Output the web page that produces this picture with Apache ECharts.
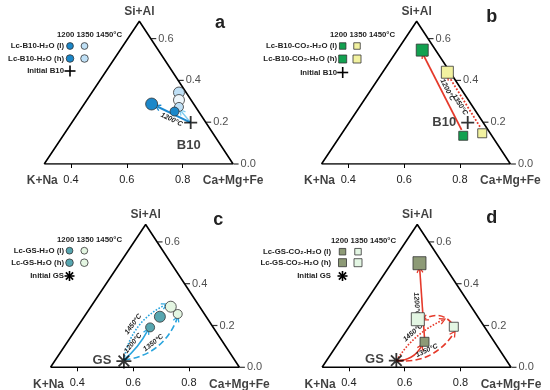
<!DOCTYPE html>
<html><head><meta charset="utf-8">
<script src="https://cdn.jsdelivr.net/npm/echarts@6/dist/echarts.min.js"></script>
<style>html,body{margin:0;padding:0;background:#fff}#c{width:550px;height:390px}</style>
</head><body><div id="c"></div>
<script>
// ---------- data (bottom-scale value, Si+Al value) ----------
const triangleX = [0.304, 0.981, 0.645, 0.304];
const triangleY = [0, 0, 0.683, 0];
const cornerLabels = ['K+Na', 'Ca+Mg+Fe', 'Si+Al'];
const bottomTickValues = [0.4, 0.6, 0.8];
const rightTickValues = [0.0, 0.2, 0.4, 0.6];
const panelLetters = ['a', 'b', 'c', 'd'];
const legendHeader = '1200 1350 1450°C';
const legendRowsA = ['Lc-B10-H₂O (l)', 'Lc-B10-H₂O (h)', 'Initial B10'];
const legendRowsB = ['Lc-B10-CO₂-H₂O (l)', 'Lc-B10-CO₂-H₂O (h)', 'Initial B10'];
const legendRowsC = ['Lc-GS-H₂O (l)', 'Lc-GS-H₂O (h)', 'Initial GS'];
const legendRowsD = ['Lc-GS-CO₂-H₂O (l)', 'Lc-GS-CO₂-H₂O (h)', 'Initial GS'];
const initialNames = ['B10', 'B10', 'GS', 'GS'];
const tempLabels = ['1200°C', '1350°C', '1450°C'];

// panel a
const aLow1200 = [0.771, 0.251];
const aLow1350 = [0.787, 0.273];
const aHigh1200 = [0.689, 0.287];
const aHigh1350 = [0.787, 0.342];
const aHigh1450 = [0.787, 0.306];
const aInitial = [0.829, 0.198];
// panel b
const bLow1200 = [0.812, 0.135];
const bLow1350 = [0.880, 0.147];
const bHigh1200 = [0.665, 0.545];
const bHigh1350 = [0.755, 0.439];
const bInitial = [0.828, 0.198];
// panel c
const cLow1200 = [0.661, 0.191];
const cLow1350 = [0.760, 0.255];
const cHigh1200 = [0.696, 0.242];
const cHigh1350 = [0.735, 0.290];
const cInitial = [0.567, 0.030];
// panel d
const dLow1200 = [0.671, 0.122];
const dLow1350 = [0.776, 0.194];
const dHigh1200 = [0.653, 0.498];
const dHigh1350 = [0.647, 0.230];
const dInitial = [0.570, 0.032];

// arrows [start, end]
const aArrowSolid = [[0.829, 0.198], [0.709, 0.275]];
const aArrowLight = [[0.829, 0.198], [0.795, 0.252]];
const bArrowSolid = [[0.806, 0.163], [0.669, 0.522]];
const bArrowDotted = [[0.872, 0.178], [0.761, 0.418]];
const cArrowSolid = [[0.567, 0.035], [0.652, 0.175]];
const cArrowDotted = [[0.567, 0.035], [0.714, 0.298]];
const cArrowDashed = [[0.567, 0.035], [0.758, 0.234]];
const dArrowSolidCurve = [[0.570, 0.032], [0.660, 0.100]];
const dArrowSolid = [[0.671, 0.140], [0.654, 0.468]];
const dArrowDotted = [[0.570, 0.032], [0.737, 0.226]];
const dArrowDashed = [[0.570, 0.032], [0.776, 0.163]];
const dArrowDashedBack = [[0.770, 0.210], [0.672, 0.232]];

// ---------- styling / layout ----------
const FONT = 'Liberation Sans, Arial, sans-serif';
const COL = {
  aDark: '#1b87c9', aLight: '#bfe0f6', aWhite: '#eef6fb',
  bGreen: '#12a150', bYellow: '#f2f2a0',
  cTeal: '#57a6b0', cPale: '#e4f6e2',
  dOlive: '#8d9a76', dPale: '#e3f6e3',
  blue: '#1c8ad0', blueLight: '#7fcdf0', cBlue: '#2aa5de', red: '#e53a2b'
};
const plusPath = 'path://M8.6,0H11.4V8.6H20V11.4H11.4V20H8.6V11.4H0V8.6H8.6Z';
const starPath = 'path://M0,8.8H20V11.2H0Z M8.8,0H11.2V20H8.8Z M3.75,2.05L17.95,16.25L16.25,17.95L2.05,3.75Z M16.25,2.05L17.95,3.75L3.75,17.95L2.05,16.25Z';
const chevron = 'path://M5,0L10,9L8.4,10L5,3.6L1.6,10L0,9Z';

const gridBoxes = [
  { left: 43.1, top: 17.7 }, { left: 320.4, top: 17.7 },
  { left: 49.4, top: 221 }, { left: 321, top: 221 }
];
const GW = 195.3, GH = 146.3;

function edgeX(v) {
  return triangleX[1] + (triangleX[2] - triangleX[1]) * (v / triangleY[2]);
}

const series = [];
function frame(i) {
  series.push({
    type: 'line', xAxisIndex: i, yAxisIndex: i, silent: true, z: 1,
    data: triangleX.map((x, k) => [x, triangleY[k]]),
    symbol: 'none', lineStyle: { color: '#000', width: 1.6 }
  });
  series.push({
    type: 'scatter', xAxisIndex: i, yAxisIndex: i, silent: true, z: 1,
    data: rightTickValues.map(v => [edgeX(v), v]),
    symbol: 'rect', symbolSize: [5, 1.2], symbolOffset: [3, 0],
    itemStyle: { color: '#000' },
    label: { show: true, position: 'right', distance: 2, formatter: p => p.value[1].toFixed(1),
      fontSize: 11, color: '#222', fontFamily: FONT }
  });
  const offs = [[-2, 17], [0, 17], [0, -10]];
  series.push({
    type: 'scatter', xAxisIndex: i, yAxisIndex: i, silent: true, z: 1,
    symbolSize: 1, itemStyle: { color: 'rgba(0,0,0,0)' },
    data: [0, 1, 2].map(k => ({ value: [triangleX[k], triangleY[k]], name: cornerLabels[k],
      label: { offset: offs[k] } })),
    label: { show: true, position: 'inside', formatter: '{b}', fontSize: 12, fontWeight: 'bold',
      color: '#111', fontFamily: FONT }
  });
}
function pt(i, v, symbol, size, color, z) {
  series.push({
    type: 'scatter', xAxisIndex: i, yAxisIndex: i, data: [v], symbol, symbolSize: size,
    itemStyle: { color, borderColor: '#333', borderWidth: 0.8, opacity: 1 }, z: z || 4
  });
}
function initial(i, v, symbol, size, name, pos, off) {
  series.push({
    type: 'scatter', xAxisIndex: i, yAxisIndex: i, data: [{ value: v, name }], symbol, symbolSize: size,
    itemStyle: { color: '#000' }, z: 5,
    label: { show: true, position: pos, offset: off, formatter: '{b}', fontSize: 13, fontWeight: 'bold',
      color: '#111', fontFamily: FONT }
  });
}
function arrow(i, seg, color, width, type, curveness, text, pos) {
  series.push({
    type: 'lines', coordinateSystem: 'cartesian2d', xAxisIndex: i, yAxisIndex: i, z: 3,
    symbol: ['none', chevron], symbolSize: [7, 7],
    lineStyle: { color, width, type, curveness, opacity: 1 },
    data: [{ coords: seg, name: text || '' }],
    label: { show: !!text, position: pos || 'middle', formatter: '{b}', fontSize: 7, fontWeight: 'bold',
      fontStyle: 'italic', color: '#222', fontFamily: FONT, distance: 2 }
  });
}

// panel a
frame(0);
arrow(0, aArrowLight, COL.blueLight, 1.5, 'solid', 0, '', null);
arrow(0, aArrowSolid, COL.blue, 2, 'solid', 0, tempLabels[0], 'insideMiddleBottom');
pt(0, aHigh1350, 'circle', 11, COL.aLight);
pt(0, aHigh1450, 'circle', 11, COL.aWhite);
pt(0, aLow1350, 'circle', 9, COL.aLight);
pt(0, aHigh1200, 'circle', 12, COL.aDark);
pt(0, aLow1200, 'circle', 9, COL.aDark, 5);
initial(0, aInitial, plusPath, 13, initialNames[0], 'bottom', [-2, 5]);
// panel b
frame(1);
arrow(1, bArrowSolid, COL.red, 1.8, 'solid', 0, tempLabels[0], 'insideMiddleTop');
arrow(1, bArrowDotted, COL.red, 1.8, 'dotted', 0, tempLabels[1], 'insideMiddleBottom');
pt(1, bHigh1200, 'rect', 12, COL.bGreen);
pt(1, bHigh1350, 'rect', 12, COL.bYellow);
pt(1, bLow1200, 'rect', 9, COL.bGreen);
pt(1, bLow1350, 'rect', 9, COL.bYellow);
initial(1, bInitial, plusPath, 13, initialNames[1], 'left', [0, 0]);
// panel c
frame(2);
arrow(2, cArrowSolid, COL.cBlue, 1.6, 'solid', -0.1, tempLabels[0], 'insideMiddleTop');
arrow(2, cArrowDotted, COL.cBlue, 1.6, 'dotted', 0.25, tempLabels[2], 'insideMiddleTop');
arrow(2, cArrowDashed, COL.cBlue, 1.6, 'dashed', -0.3, tempLabels[1], 'insideMiddleTop');
pt(2, cLow1200, 'circle', 9, COL.cTeal);
pt(2, cHigh1200, 'circle', 11, COL.cTeal);
pt(2, cHigh1350, 'circle', 11, COL.cPale);
pt(2, cLow1350, 'circle', 9, COL.cPale);
initial(2, cInitial, starPath, 15, initialNames[2], 'left', [0, -1]);
// panel d
frame(3);
arrow(3, dArrowSolidCurve, COL.red, 1.6, 'solid', -0.3, '', null);
arrow(3, dArrowSolid, COL.red, 1.6, 'solid', 0, tempLabels[0], 'insideMiddleBottom');
arrow(3, dArrowDotted, COL.red, 1.6, 'dotted', 0.15, tempLabels[2], 'insideMiddleTop');
arrow(3, dArrowDashed, COL.red, 1.6, 'dashed', -0.3, tempLabels[1], 'insideMiddleTop');
arrow(3, dArrowDashedBack, COL.red, 1.6, 'dashed', -0.4, '', null);
pt(3, dHigh1200, 'rect', 13, COL.dOlive);
pt(3, dHigh1350, 'rect', 13, COL.dPale);
pt(3, dLow1200, 'rect', 9, COL.dOlive);
pt(3, dLow1350, 'rect', 9, COL.dPale);
initial(3, dInitial, starPath, 15, initialNames[3], 'left', [0, -1]);

// ---------- legends & panel letters (graphic) ----------
const graphic = [];
function txt(x, y, text, font, align) {
  graphic.push({ type: 'text', x, y, silent: true,
    style: { text, font, fill: '#222', align: align || 'left', verticalAlign: 'middle',
      textAlign: align || 'left', textVerticalAlign: 'middle' } });
}
const LFONT = 'bold 7.8px ' + FONT;
function legend(L) {
  txt(L.hx, L.hy, legendHeader, LFONT, 'left');
  L.rows.forEach((r, k) => txt(L.tx, L.ry[k], r, LFONT, 'right'));
  const sizes = [L.small, L.big];
  [0, 1].forEach(k => {
    [L.c1, L.c2].forEach((c, j) => {
      const cx = j === 0 ? L.m1 : L.m2, cy = L.ry[k], s = sizes[k];
      if (L.shape === 'circle') {
        graphic.push({ type: 'circle', silent: true, shape: { cx, cy, r: s / 2 },
          style: { fill: c, stroke: '#333', lineWidth: 0.8 } });
      } else {
        graphic.push({ type: 'rect', silent: true, shape: { x: cx - s / 2, y: cy - s / 2, width: s, height: s },
          style: { fill: c, stroke: '#333', lineWidth: 0.8 } });
      }
    });
  });
  const cx = L.m1, cy = L.ry[2];
  const segs = L.star
    ? [[-5, 0, 5, 0], [0, -5, 0, 5], [-3.6, -3.6, 3.6, 3.6], [-3.6, 3.6, 3.6, -3.6]]
    : [[-5.5, 0, 5.5, 0], [0, -5.5, 0, 5.5]];
  segs.forEach(s => graphic.push({ type: 'line', silent: true,
    shape: { x1: cx + s[0], y1: cy + s[1], x2: cx + s[2], y2: cy + s[3] },
    style: { stroke: '#000', lineWidth: 1.6 } }));
}
legend({ hx: 57, hy: 35, tx: 64, ry: [46, 58.5, 71], m1: 70, m2: 84.5, rows: legendRowsA,
  shape: 'circle', c1: COL.aDark, c2: COL.aLight, small: 6.8, big: 7.6, star: false });
legend({ hx: 330, hy: 35, tx: 337, ry: [46, 59, 72.5], m1: 342.7, m2: 357, rows: legendRowsB,
  shape: 'rect', c1: COL.bGreen, c2: COL.bYellow, small: 6.5, big: 8, star: false });
legend({ hx: 57, hy: 239.5, tx: 64, ry: [250.7, 262.7, 276], m1: 69.5, m2: 84.3, rows: legendRowsC,
  shape: 'circle', c1: COL.cTeal, c2: COL.cPale, small: 6.8, big: 7.6, star: true });
legend({ hx: 331, hy: 240.7, tx: 331, ry: [251.7, 262.7, 276], m1: 342.5, m2: 358, rows: legendRowsD,
  shape: 'rect', c1: COL.dOlive, c2: COL.dPale, small: 6.5, big: 8, star: true });
const letterPos = [[220, 23], [491.7, 17], [218.3, 220], [491.7, 218.3]];
panelLetters.forEach((l, k) => txt(letterPos[k][0], letterPos[k][1], l, 'bold 18px ' + FONT, 'center'));

const chart = echarts.init(document.getElementById('c'), null, { renderer: 'canvas' });
chart.setOption({
  animation: false,
  backgroundColor: '#fff',
  grid: gridBoxes.map(g => ({ left: g.left, top: g.top, width: GW, height: GH })),
  xAxis: gridBoxes.map((g, i) => ({
    type: 'value', gridIndex: i, min: 0.3, max: 1.0,
    axisLine: { show: false }, splitLine: { show: false },
    axisTick: { show: true, customValues: bottomTickValues, length: 4, lineStyle: { color: '#000', width: 1 } },
    axisLabel: { show: true, customValues: bottomTickValues, formatter: v => v.toFixed(1), fontSize: 11,
      color: '#222', margin: 10, fontFamily: FONT }
  })),
  yAxis: gridBoxes.map((g, i) => ({ type: 'value', gridIndex: i, min: 0, max: 0.7, show: false })),
  series,
  graphic
});
</script></body></html>
